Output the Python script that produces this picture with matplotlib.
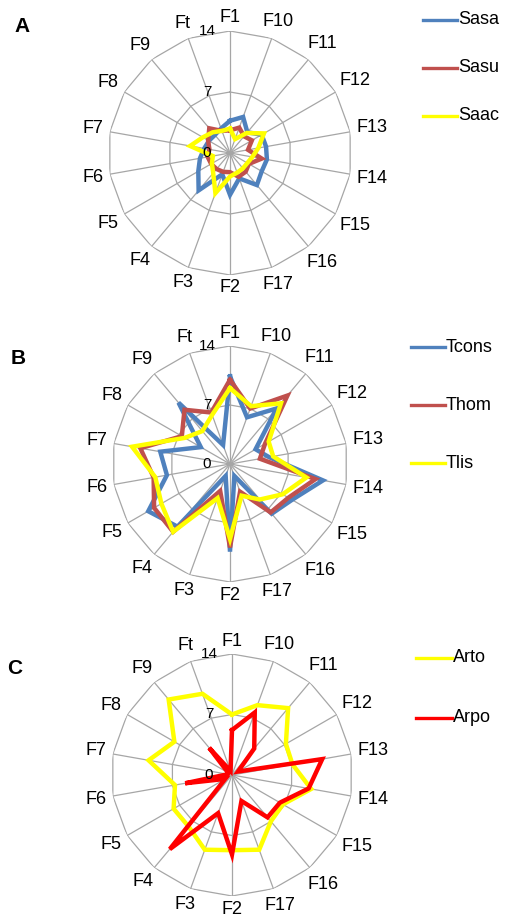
import numpy as np
import matplotlib
matplotlib.use("Agg")
import matplotlib.pyplot as plt
from matplotlib.lines import Line2D

plt.rcParams['font.family'] = ['Liberation Sans', 'DejaVu Sans']

categories = ["F1", "F10", "F11", "F12", "F13", "F14", "F15", "F16", "F17",
              "F2", "F3", "F4", "F5", "F6", "F7", "F8", "F9", "Ft"]
ticks = [0, 7, 14]

# Panel A
sasa = [3.7, 4.4, 3.1, 4.2, 4.2, 4.3, 4.2, 4.8, 3.1, 4.8, 2.6, 5.6, 4.2, 3.5, 3.0, 2.8, 2.7, 3.0]
sasu = [2.6, 3.1, 2.5, 2.9, 2.1, 3.7, 2.5, 2.8, 2.9, 2.2, 2.3, 2.4, 2.5, 2.6, 2.4, 2.9, 3.7, 2.7]
saac = [2.8, 1.7, 3.0, 4.5, 3.3, 2.6, 2.3, 2.3, 2.4, 2.7, 4.9, 3.0, 2.4, 2.0, 4.65, 3.6, 3.1, 2.7]
# Panel B
tcons = [10.4, 5.9, 8.6, 3.5, 4.7, 11.2, 8.5, 7.7, 1.5, 10.4, 1.5, 9.7, 11.2, 7.6, 8.4, 4.0, 9.5, 2.4]
thom = [10.0, 7.0, 10.6, 4.8, 3.6, 10.3, 8.0, 7.5, 3.5, 9.9, 3.4, 10.5, 10.4, 9.2, 10.8, 6.6, 8.4, 6.5]
tlis = [9.0, 7.3, 9.4, 5.3, 5.2, 9.2, 7.2, 5.5, 4.0, 8.9, 4.3, 10.5, 9.4, 9.0, 11.8, 6.2, 5.1, 6.2]
# Panel C
arto = [7.0, 8.6, 10.1, 7.2, 7.1, 9.3, 6.8, 7.0, 9.2, 8.7, 9.2, 7.8, 7.8, 6.7, 9.8, 7.7, 11.4, 10.0]
arpo = [5.2, 7.7, 4.0, 0.8, 10.6, 9.0, 6.4, 6.4, 3.2, 9.2, 4.7, 11.2, 0.9, 5.5, 0.5, 0.5, 4.1, 0.5]

W, H = 526, 919
fig = plt.figure(figsize=(W / 100, H / 100), dpi=100)

grid_col = "#A6A6A6"
n = len(categories)
angles = np.deg2rad(np.arange(n) * 360.0 / n)
ang_c = np.append(angles, angles[0])


def make_panel(cx, cy, r14, series, letter, letter_xy, legend_x, legend_ys):
    left = (cx - r14) / W
    bottom = 1 - (cy + r14) / H
    ax = fig.add_axes([left, bottom, 2 * r14 / W, 2 * r14 / H], projection='polar')
    ax.set_theta_zero_location('N')
    ax.set_theta_direction(-1)
    ax.set_ylim(0, 14)
    ax.grid(False)
    ax.spines['polar'].set_visible(False)
    ax.set_xticks([])
    ax.set_yticks([])
    ax.patch.set_alpha(0)
    for t in ticks[1:]:
        ax.plot(ang_c, [t] * len(ang_c), color=grid_col, lw=0.9, zorder=1)
    for a in angles:
        ax.plot([a, a], [0, 14], color=grid_col, lw=0.9, zorder=1)
    for t in ticks:
        ax.annotate(str(t), xy=(0, t), xytext=(-23, 0), textcoords='offset pixels',
                    ha='center', va='center', fontsize=11, color='#000000', zorder=5)
    for a, lab in zip(angles, categories):
        s, c = np.sin(a), np.cos(a)
        hw = 11 if len(lab) == 2 else 16
        d = 5 + hw * abs(s) + 8 * abs(c)
        ax.annotate(lab, xy=(a, 14), xytext=(d * s, d * c), textcoords='offset pixels',
                    ha='center', va='center', fontsize=13, color='#000000', annotation_clip=False)
    for name, vals, col in series:
        v = list(vals) + [vals[0]]
        ax.plot(ang_c, v, color=col, lw=3.2, zorder=3, solid_joinstyle='miter')
    fig.text(letter_xy[0] / W, 1 - letter_xy[1] / H, letter, fontsize=15, fontweight='bold',
             ha='center', va='center')
    for (name, vals, col), ly in zip(series, legend_ys):
        x0, x1 = legend_x
        fig.add_artist(Line2D([x0 / W, x1 / W], [1 - ly / H, 1 - ly / H], color=col, lw=2.4))
        fig.text((x1 + 1) / W, 1 - ly / H, name, fontsize=13, ha='left', va='center')
    return ax


blue = "#4F81BD"
red = "#C0504D"
yellow = "#FFFF00"

make_panel(230, 153, 122,
           [("Sasa", sasa, blue), ("Sasu", sasu, red), ("Saac", saac, yellow)],
           "A", (22, 27), (423, 457), [20, 68, 116])
make_panel(230, 464, 118,
           [("Tcons", tcons, blue), ("Thom", thom, red), ("Tlis", tlis, yellow)],
           "B", (18, 358), (411, 445), [347, 405, 463])
make_panel(232, 775, 121,
           [("Arto", arto, yellow), ("Arpo", arpo, "#FF0000")],
           "C", (15, 668), (416, 452), [658, 718])

fig.savefig("out.png", dpi=100)
